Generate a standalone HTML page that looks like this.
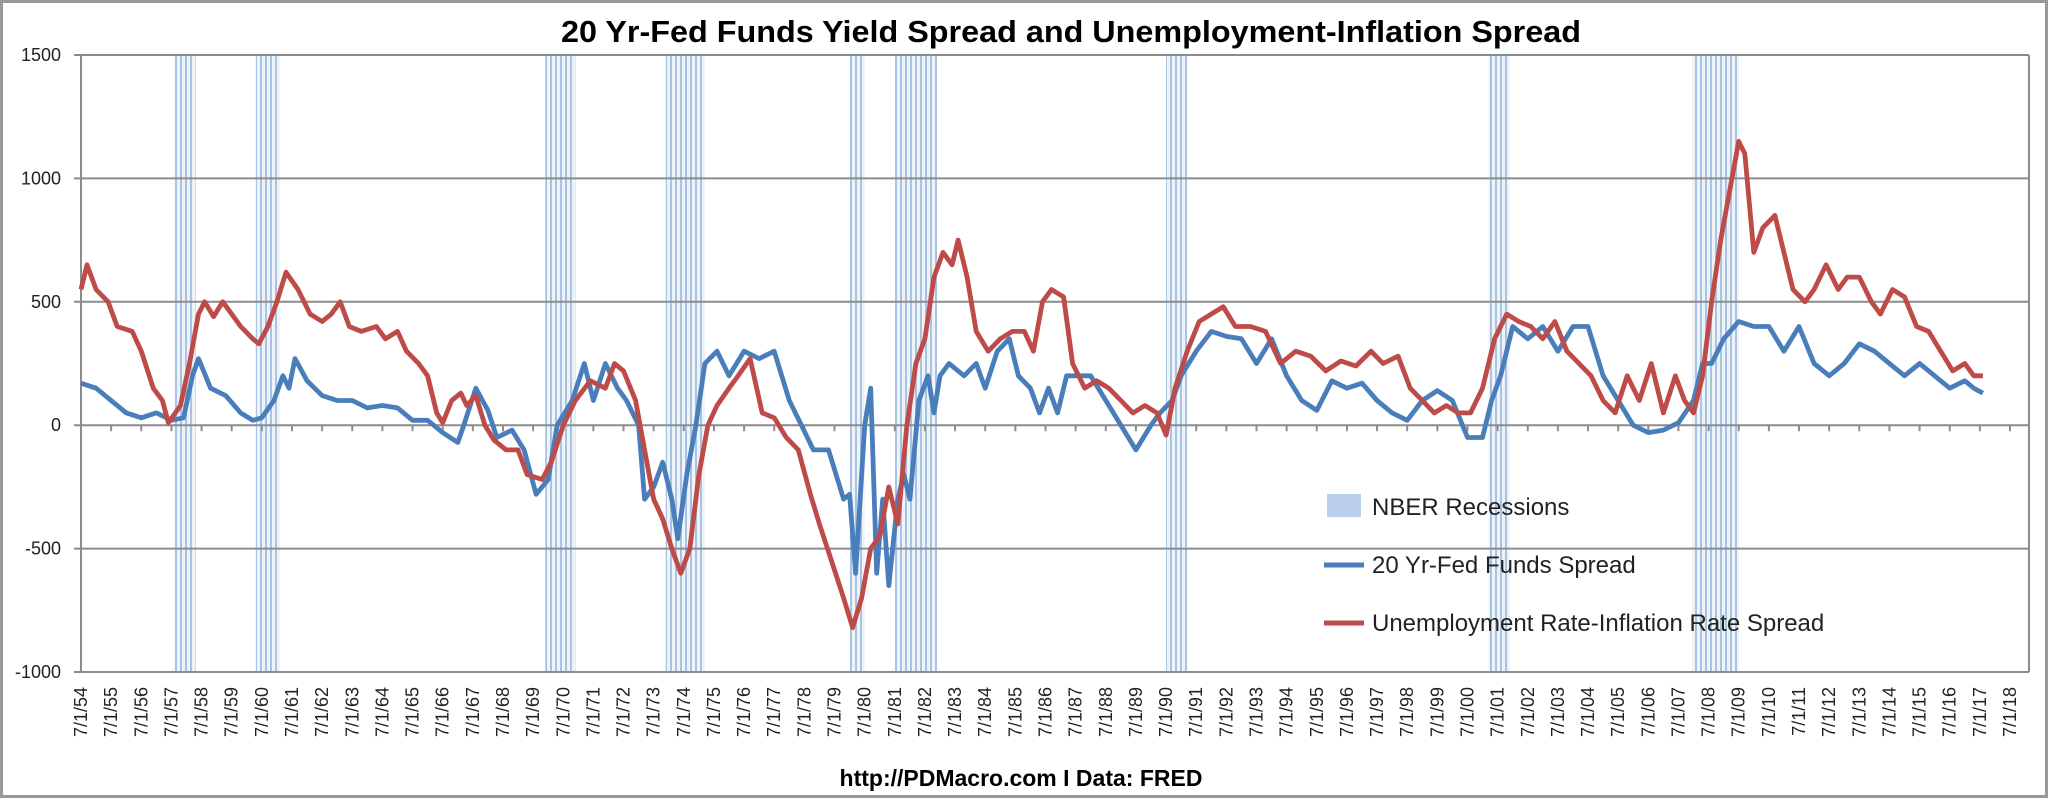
<!DOCTYPE html>
<html><head><meta charset="utf-8">
<style>
html,body{margin:0;padding:0;background:#fff;}
svg{display:block;font-family:"Liberation Sans",sans-serif;}
</style></head>
<body>
<svg id="chart" width="2048" height="798" viewBox="0 0 2048 798" xmlns="http://www.w3.org/2000/svg">
<defs>
<pattern id="stripes" width="5" height="10" patternUnits="userSpaceOnUse">
<rect width="5" height="10" fill="#eef3fa"/>
<rect width="2" height="10" fill="#a9c3e3"/>
</pattern>
</defs>
<rect x="1.5" y="1.5" width="2045" height="795" fill="#fff" stroke="#999" stroke-width="3"/>
<text x="1071" y="42" text-anchor="middle" font-size="31" font-weight="bold" fill="#000" textLength="1020" lengthAdjust="spacingAndGlyphs">20 Yr-Fed Funds Yield Spread and Unemployment-Inflation Spread</text>
<g id="rec"></g>
<g id="grid"></g>
<g id="xaxis"></g>
<g id="yaxis"></g>
<g id="series"></g>
<g>
<rect x="1327" y="494" width="34" height="23" fill="#b9cfea"/>
<text x="1372" y="515" font-size="24" fill="#222">NBER Recessions</text>
<line x1="1324" y1="565" x2="1364" y2="565" stroke="#4a7ebb" stroke-width="5"/>
<text x="1372" y="573" font-size="24" fill="#222">20 Yr-Fed Funds Spread</text>
<line x1="1324" y1="623" x2="1364" y2="623" stroke="#be4b48" stroke-width="5"/>
<text x="1372" y="631" font-size="24" fill="#222">Unemployment Rate-Inflation Rate Spread</text>
</g>
<text x="1021" y="786" text-anchor="middle" font-size="23" font-weight="bold" fill="#000">http://PDMacro.com I Data: FRED</text>
</svg>
<script>
const yTicks=[1500,1000,500,0,-500,-1000];
const recStart=[1957.6,1960.3,1969.9,1973.9,1980.0,1981.5,1990.5,2001.2,2007.95];
const recEnd=[1958.3,1961.1,1970.9,1975.2,1980.5,1982.9,1991.2,2001.9,2009.5];
const fedDates=[1954.5,1955,1955.5,1956,1956.5,1957,1957.5,1957.9,1958.2,1958.4,1958.8,1959.3,1959.8,1960.2,1960.5,1960.9,1961.2,1961.4,1961.6,1962,1962.5,1963,1963.5,1964,1964.5,1965,1965.5,1966,1966.5,1967,1967.2,1967.6,1968,1968.3,1968.8,1969.2,1969.6,1970,1970.3,1970.8,1971.2,1971.5,1971.9,1972.3,1972.6,1973,1973.2,1973.5,1973.8,1974.1,1974.3,1974.6,1974.9,1975.2,1975.6,1976,1976.5,1977,1977.5,1978,1978.4,1978.8,1979.3,1979.8,1980,1980.2,1980.5,1980.7,1980.9,1981.1,1981.3,1981.6,1981.8,1982,1982.3,1982.6,1982.8,1983,1983.3,1983.8,1984.2,1984.5,1984.9,1985.3,1985.6,1986,1986.3,1986.6,1986.9,1987.2,1987.6,1988,1988.5,1989,1989.5,1990,1990.3,1990.7,1991,1991.5,1992,1992.5,1993,1993.5,1994,1994.5,1995,1995.5,1996,1996.5,1997,1997.5,1998,1998.5,1999,1999.5,2000,2000.5,2001,2001.3,2001.6,2002,2002.5,2003,2003.5,2004,2004.5,2005,2005.5,2006,2006.5,2007,2007.5,2008,2008.3,2008.6,2009,2009.5,2010,2010.5,2011,2011.5,2012,2012.5,2013,2013.5,2014,2014.5,2015,2015.5,2016,2016.5,2017,2017.3,2017.6];
const fedValues=[170,150,100,50,30,50,20,30,200,270,150,120,50,20,30,100,200,150,270,180,120,100,100,70,80,70,20,20,-30,-70,0,150,60,-50,-20,-100,-280,-220,0,100,250,100,250,150,100,0,-300,-250,-150,-300,-460,-200,0,250,300,200,300,270,300,100,0,-100,-100,-300,-280,-600,0,150,-600,-300,-650,-300,-200,-300,100,200,50,200,250,200,250,150,300,350,200,150,50,150,50,200,200,200,100,0,-100,0,50,100,200,300,380,360,350,250,350,200,100,60,180,150,170,100,50,20,100,140,100,-50,-50,100,200,400,350,400,300,400,400,200,100,0,-30,-20,10,100,250,250,350,420,400,400,300,400,250,200,250,330,300,250,200,250,200,150,180,150,130];
const unDates=[1954.5,1954.7,1955,1955.4,1955.7,1956.2,1956.5,1956.9,1957.2,1957.4,1957.8,1958.1,1958.4,1958.6,1958.9,1959.2,1959.5,1959.8,1960.2,1960.4,1960.7,1961,1961.3,1961.7,1962.1,1962.5,1962.8,1963.1,1963.4,1963.8,1964.3,1964.6,1965,1965.3,1965.7,1966,1966.3,1966.5,1966.8,1967.1,1967.3,1967.6,1967.9,1968.2,1968.6,1969,1969.3,1969.8,1970.1,1970.5,1970.9,1971.4,1971.9,1972.2,1972.5,1972.9,1973.2,1973.5,1973.8,1974.1,1974.4,1974.7,1975,1975.3,1975.6,1976,1976.3,1976.7,1977.1,1977.5,1977.9,1978.3,1978.7,1979,1979.4,1979.8,1980.1,1980.4,1980.7,1981,1981.3,1981.6,1981.9,1982.2,1982.5,1982.8,1983.1,1983.4,1983.6,1983.9,1984.2,1984.6,1985,1985.4,1985.8,1986.1,1986.4,1986.7,1987.1,1987.4,1987.8,1988.2,1988.6,1989,1989.4,1989.8,1990.2,1990.5,1990.8,1991.2,1991.6,1992,1992.4,1992.8,1993.3,1993.8,1994.3,1994.8,1995.3,1995.8,1996.3,1996.8,1997.3,1997.7,1998.2,1998.6,1999,1999.4,1999.8,2000.2,2000.6,2001,2001.4,2001.8,2002.2,2002.6,2003,2003.4,2003.8,2004.2,2004.6,2005,2005.4,2005.8,2006.2,2006.6,2007,2007.4,2007.7,2008,2008.3,2008.6,2008.9,2009.2,2009.5,2009.7,2010,2010.3,2010.7,2011,2011.3,2011.7,2012,2012.4,2012.8,2013.1,2013.5,2013.9,2014.2,2014.6,2015,2015.4,2015.8,2016.2,2016.6,2017,2017.3,2017.6];
const unValues=[550,650,550,500,400,380,300,150,100,10,80,250,450,500,440,500,450,400,350,330,400,500,620,550,450,420,450,500,400,380,400,350,380,300,250,200,50,10,100,130,80,120,0,-60,-100,-100,-200,-220,-150,0,100,180,150,250,220,100,-100,-300,-380,-500,-600,-500,-200,0,80,150,200,270,50,30,-50,-100,-280,-400,-550,-700,-820,-700,-500,-450,-250,-400,0,250,350,600,700,650,750,600,380,300,350,380,380,300,500,550,520,250,150,180,150,100,50,80,50,-40,150,300,420,450,480,400,400,380,250,300,280,220,260,240,300,250,280,150,100,50,80,50,50,150,350,450,420,400,350,420,300,250,200,100,50,200,100,250,50,200,100,50,200,500,750,950,1150,1100,700,800,850,700,550,500,550,650,550,600,600,500,450,550,520,400,380,300,220,250,200,200];

const NS='http://www.w3.org/2000/svg';
const X0=81,X1=2010,XR=2029,Y0=55,Y1=672,yr0=1954.5,yr1=2018.5,vmax=1500,vmin=-1000;
function xs(t){return X0+(t-yr0)/(yr1-yr0)*(X1-X0);}
function ys(v){return Y0+(vmax-v)/(vmax-vmin)*(Y1-Y0);}
function mk(tag,attrs,parent){const e=document.createElementNS(NS,tag);for(const k in attrs)e.setAttribute(k,attrs[k]);parent.appendChild(e);return e;}

const rec=document.getElementById('rec');
for(let i=0;i<recStart.length;i++){
  const r=mk('rect',{x:xs(recStart[i]),y:Y0,width:xs(recEnd[i])-xs(recStart[i]),height:Y1-Y0,fill:'url(#stripes)'},rec);
  
  
}
const grid=document.getElementById('grid'),yaxis=document.getElementById('yaxis');
yTicks.forEach(v=>{
  const l=mk('line',{x1:X0-7,x2:XR,y1:ys(v),y2:ys(v),stroke:'#8c8c8c','stroke-width':2},grid);
  
  
  const t=mk('text',{x:X0-20,y:ys(v)+6,'text-anchor':'end','font-size':18,fill:'#222'},yaxis);
  t.textContent=v;
  
  
});
const ax=mk('line',{x1:X0,x2:X0,y1:Y0,y2:Y1,stroke:'#8c8c8c','stroke-width':2},yaxis);


const rb=mk('line',{x1:XR,x2:XR,y1:Y0,y2:Y1,stroke:'#8c8c8c','stroke-width':2},yaxis);


const xaxis=document.getElementById('xaxis');
for(let y=1954;y<=2018;y++){
  const x=xs(y+0.5);
  const tk=mk('line',{x1:x,x2:x,y1:ys(0),y2:ys(0)+6,stroke:'#8c8c8c','stroke-width':2},xaxis);
  
  
  const lab='7/1/'+String(y%100).padStart(2,'0');
  const t=mk('text',{x:0,y:0,'text-anchor':'end','font-size':18,fill:'#222',transform:`translate(${x+6},${Y1+15}) rotate(-90)`},xaxis);
  t.textContent=lab;
  
  
}
const series=document.getElementById('series');
function line(d,v,c,name){
  const pts=d.map((t,i)=>xs(t).toFixed(1)+','+ys(v[i]).toFixed(1)).join(' ');
  const p=mk('polyline',{points:pts,fill:'none',stroke:c,'stroke-width':4.8,'stroke-linejoin':'round'},series);
  
  
}
line(fedDates,fedValues,'#4a7ebb','fed-funds-spread-line');
line(unDates,unValues,'#be4b48','unemployment-inflation-spread-line');
</script>
</body></html>
